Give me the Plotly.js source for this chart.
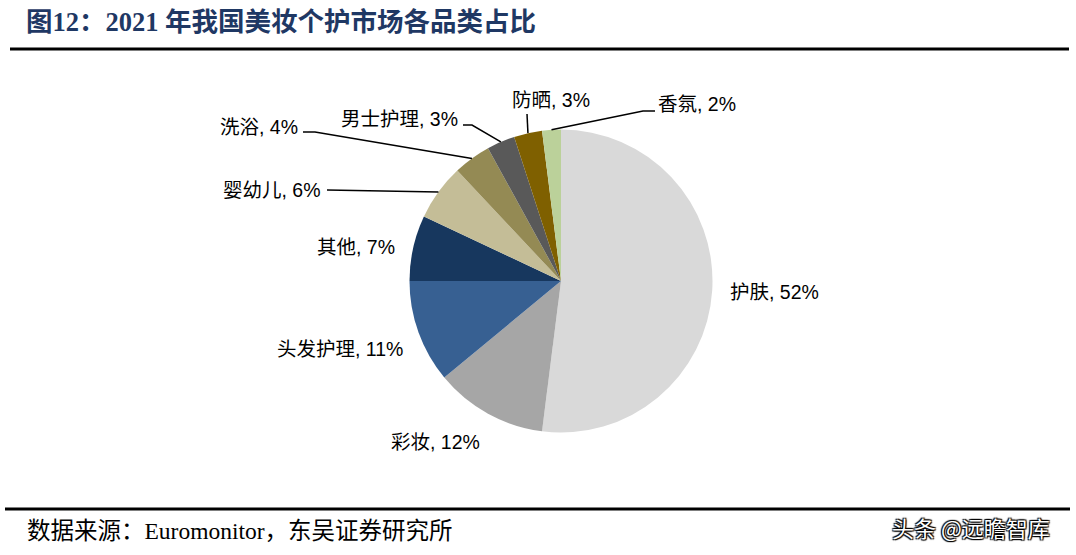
<!DOCTYPE html>
<html>
<head>
<meta charset="utf-8">
<script src="https://cdn.plot.ly/plotly-3.0.1.min.js"></script>
<style>html,body{margin:0;padding:0;background:#fff;}#chart{width:1076px;height:555px;}</style>
</head>
<body>
<div id="chart"></div>
<script>
// ---- data ----
const categories = ["护肤", "彩妆", "头发护理", "其他", "婴幼儿", "洗浴", "男士护理", "防晒", "香氛"];
const shares = [52, 12, 11, 7, 6, 4, 3, 3, 2];
const sliceColors = ["#D9D9D9", "#A6A6A6", "#376092", "#17375E", "#C4BD97", "#948A54", "#595959", "#7F6000", "#BBD19A"];
const titleText = "图12：2021 年我国美妆个护市场各品类占比";
const sourceText = "数据来源：Euromonitor，东吴证券研究所";
const watermarkText = "头条 @远瞻智库";

// ---- layout geometry (pixels) ----
const W = 1076, H = 555;
const cx = 561, cy = 281, R = 151.5;
const px = x => x / W;
const py = y => 1 - y / H;

// label placement: [x, y, xanchor, leader elbow points (pixels) or null]
const labelPlace = [
  [728, 292, "left", null],
  [435, 442, "center", null],
  [340, 349, "center", null],
  [356, 247, "center", null],
  [272, 190, "center", [[327, 190]]],
  [259, 127, "center", [[303, 132], [315, 132]]],
  [399, 119, "center", [[463, 125], [472, 125]]],
  [551, 100, "center", [[527, 114]]],
  [697, 104, "center", [[655, 111], [643, 111]]]
];

// ---- slice mid angles from data ----
const total = shares.reduce((a, b) => a + b, 0);
let cum = 0;
const edgePts = shares.map(v => {
  const mid = (cum + v / 2) / total * 2 * Math.PI;
  cum += v;
  return [cx + R * Math.sin(mid), cy - R * Math.cos(mid)];
});

const annotations = [];
const shapes = [];
categories.forEach((c, i) => {
  const p = labelPlace[i];
  annotations.push({
    text: c + ", " + shares[i] + "%",
    x: px(p[0]), y: py(p[1]), xref: "paper", yref: "paper",
    xanchor: p[2], yanchor: "middle", showarrow: false,
    font: {family: "Liberation Sans, Arial, Noto Sans CJK SC", size: 19.5, color: "#000"}
  });
  if (p[3]) {
    const pts = p[3].concat([edgePts[i]]);
    let d = "M " + px(pts[0][0]) + " " + py(pts[0][1]);
    for (let k = 1; k < pts.length; k++) d += " L " + px(pts[k][0]) + " " + py(pts[k][1]);
    shapes.push({type: "path", xref: "paper", yref: "paper", path: d, line: {color: "#000", width: 1.5}});
  }
});

// title, rules, source, watermark
annotations.push({
  text: "<b>" + titleText + "</b>", x: px(24), y: py(22), xref: "paper", yref: "paper",
  xanchor: "left", yanchor: "middle", showarrow: false,
  font: {family: "Liberation Serif, Noto Sans CJK SC", size: 26.5, color: "#1F3864"}
});
annotations.push({
  text: sourceText, x: px(25), y: py(531), xref: "paper", yref: "paper",
  xanchor: "left", yanchor: "middle", showarrow: false,
  font: {family: "Liberation Serif, Noto Sans CJK SC", size: 23.5, color: "#000"}
});
annotations.push({
  text: watermarkText, x: px(1052), y: py(527), xref: "paper", yref: "paper",
  xanchor: "right", yanchor: "middle", showarrow: false,
  font: {family: "Noto Sans CJK SC", size: 22, color: "#ffffff",
         shadow: "1px 1px 1px #000, -1px -1px 1px #000, 1px -1px 1px #000, -1px 1px 1px #000"}
});
shapes.push({type: "line", xref: "paper", yref: "paper", x0: px(10), x1: px(1069), y0: py(49), y1: py(49), line: {color: "#000", width: 3}});
shapes.push({type: "line", xref: "paper", yref: "paper", x0: px(5), x1: px(1070), y0: py(509), y1: py(509), line: {color: "#000", width: 3}});

const trace = {
  type: "pie",
  labels: categories,
  values: shares,
  sort: false,
  direction: "clockwise",
  rotation: 0,
  textinfo: "none",
  hoverinfo: "skip",
  marker: {colors: sliceColors, line: {width: 0}},
  domain: {x: [px(cx - R), px(cx + R)], y: [py(cy + R), py(cy - R)]},
  showlegend: false
};

Plotly.newPlot("chart", [trace], {
  width: W, height: H,
  margin: {l: 0, r: 0, t: 0, b: 0},
  paper_bgcolor: "#fff", plot_bgcolor: "#fff",
  showlegend: false,
  annotations: annotations,
  shapes: shapes
}, {displayModeBar: false, staticPlot: true});
</script>
</body>
</html>
